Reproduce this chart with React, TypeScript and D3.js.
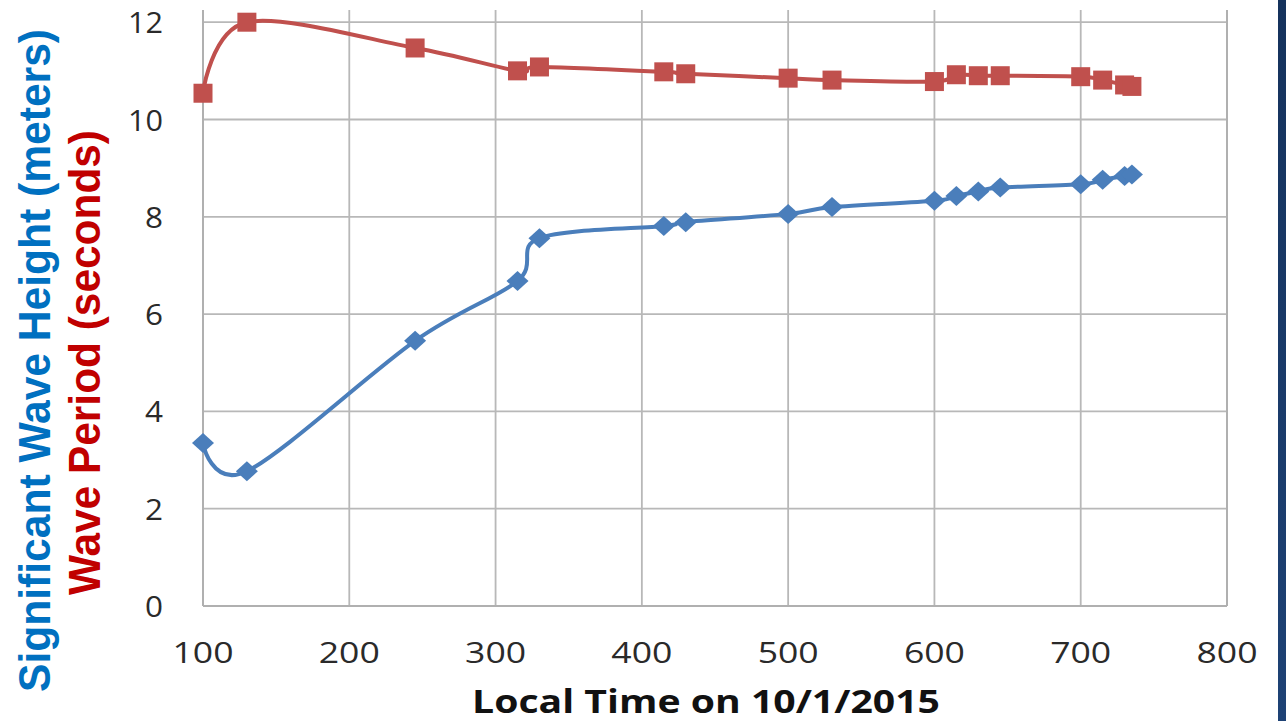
import React from "react";
import * as d3 from "d3";

const times = [100, 130, 245, 315, 330, 415, 430, 500, 530, 600, 615, 630, 645, 700, 715, 730, 735];
const waveHeight = [3.35, 2.77, 5.45, 6.68, 7.56, 7.81, 7.89, 8.06, 8.2, 8.33, 8.43, 8.52, 8.6, 8.67, 8.76, 8.84, 8.87];
const wavePeriod = [10.54, 12.0, 11.47, 11.0, 11.08, 10.98, 10.94, 10.85, 10.81, 10.78, 10.92, 10.9, 10.9, 10.88, 10.81, 10.71, 10.68];
const xTicks = [100, 200, 300, 400, 500, 600, 700, 800];
const yTicks = [0, 2, 4, 6, 8, 10, 12];
const xTitle = "Local Time on 10/1/2015";
const yTitleBlue = "Significant Wave Height (meters)";
const yTitleRed = "Wave Period (seconds)";

const W = 1286;
const H = 721;
const left = 203;
const right = 1227;
const top = 10;
const bottom = 606;

export default function App() {
  const x = d3.scaleLinear().domain([100, 800]).range([left, right]);
  const y = d3.scaleLinear().domain([0, 12]).range([bottom, 22.2]);

  const line = d3
    .line<[number, number]>()
    .x((d) => x(d[0]))
    .y((d) => y(d[1]))
    .curve(d3.curveCardinal.tension(0));

  const blueData: [number, number][] = times.map((t, i) => [t, waveHeight[i]]);
  const redData: [number, number][] = times.map((t, i) => [t, wavePeriod[i]]);

  const grid = "#b8b8b8";
  const blue = "#4a7ebb";
  const red = "#c0504d";

  return (
    <svg
      width={W}
      height={H}
      style={{ position: "absolute", left: 0, top: 0, background: "#fff" }}
    >
      <rect x={0} y={0} width={W} height={H} fill="#ffffff" />
      {/* grid */}
      {xTicks.map((t) => (
        <line key={"gx" + t} x1={x(t)} x2={x(t)} y1={top} y2={bottom} stroke={grid} strokeWidth={1.8} />
      ))}
      {yTicks.map((t) => (
        <line key={"gy" + t} x1={left} x2={right} y1={y(t)} y2={y(t)} stroke={grid} strokeWidth={1.8} />
      ))}
      <line x1={left} x2={right} y1={bottom} y2={bottom} stroke="#b0b0b0" strokeWidth={2} />
      <line x1={left} x2={left} y1={top} y2={bottom} stroke="#b0b0b0" strokeWidth={2} />
      <line x1={right} x2={right} y1={top} y2={bottom} stroke="#b0b0b0" strokeWidth={2} />

      {/* tick labels */}
      {xTicks.map((t) => (
        <text
          key={"tx" + t}
          x={x(t)}
          y={663}
          textAnchor="middle"
          fontFamily="'Open Sans', sans-serif"
          fontSize={30}
          fill="#2a2a2a"
          textLength={61}
          lengthAdjust="spacingAndGlyphs"
        >
          {t}
        </text>
      ))}
      {yTicks.map((t) => (
        <text
          key={"ty" + t}
          x={163}
          y={y(t) + 11}
          textAnchor="end"
          fontFamily="'Open Sans', sans-serif"
          fontSize={30}
          fill="#2a2a2a"
          textLength={t >= 10 ? 35 : 18}
          lengthAdjust="spacingAndGlyphs"
        >
          {t}
        </text>
      ))}

      {/* axis titles */}
      <text
        x={472}
        y={713}
        fontFamily="'Open Sans', sans-serif"
        fontWeight="bold"
        fontSize={32}
        fill="#111"
        textLength={468}
        lengthAdjust="spacingAndGlyphs"
      >
        {xTitle}
      </text>
      <text
        transform="translate(50,692) rotate(-90)"
        fontFamily="'Liberation Sans', Arial, sans-serif"
        fontWeight="bold"
        fontSize={44}
        fill="#0070c0"
        textLength={663}
        lengthAdjust="spacingAndGlyphs"
      >
        {yTitleBlue}
      </text>
      <text
        transform="translate(100,595) rotate(-90)"
        fontFamily="'Liberation Sans', Arial, sans-serif"
        fontWeight="bold"
        fontSize={45}
        fill="#c00000"
        textLength={465}
        lengthAdjust="spacingAndGlyphs"
      >
        {yTitleRed}
      </text>

      {/* series */}
      <path d={line(blueData) || ""} fill="none" stroke={blue} strokeWidth={4} />
      <path d={line(redData) || ""} fill="none" stroke={red} strokeWidth={4} />
      {blueData.map((d, i) => {
        const cx = x(d[0]);
        const cy = y(d[1]);
        return (
          <path
            key={"b" + i}
            d={`M${cx},${cy - 10}L${cx + 11},${cy}L${cx},${cy + 10}L${cx - 11},${cy}Z`}
            fill={blue}
          />
        );
      })}
      {redData.map((d, i) => (
        <rect key={"r" + i} x={x(d[0]) - 9.5} y={y(d[1]) - 9.5} width={19} height={19} fill={red} />
      ))}

      {/* right edge bar */}
      <defs>
        <linearGradient id="edge" x1="0" y1="0" x2="0" y2="1">
          <stop offset="0" stopColor="#15325c" />
          <stop offset="1" stopColor="#1e4275" />
        </linearGradient>
      </defs>
      <rect x={1278} y={0} width={8} height={H} fill="url(#edge)" />
    </svg>
  );
}
